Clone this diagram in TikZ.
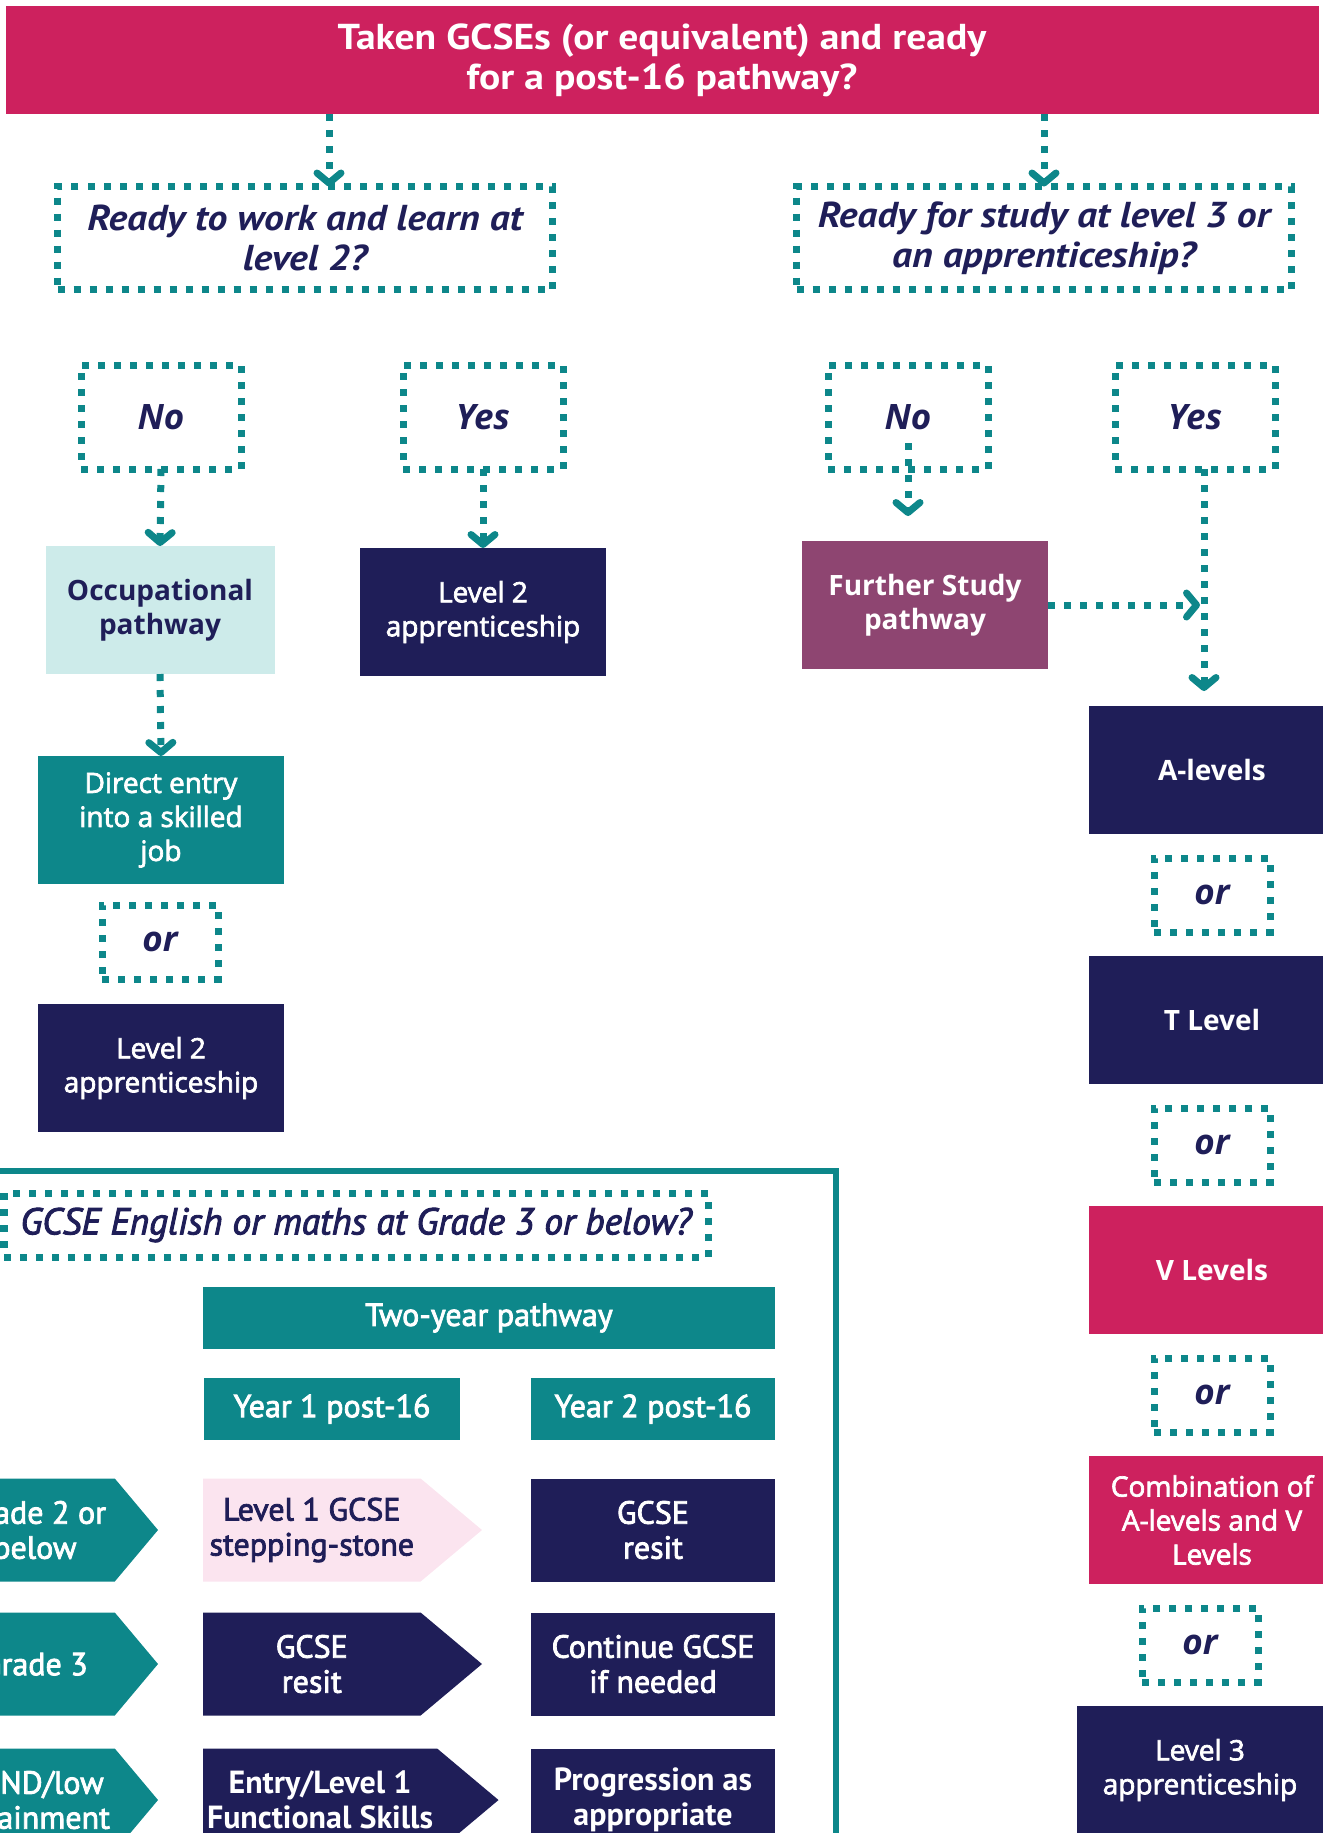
\documentclass[tikz,border=0pt]{standalone}
\usepackage{fontspec}
\setmainfont{PT Sans}
\newfontfamily\myr{PT Sans}[FakeStretch=1.1]
\newfontfamily\semi{PT Sans}[FakeBold=2.5]
\newfontfamily\wide{Open Sans}
\newfontfamily\widesemi{Open Sans}[FakeBold=2.5]
\usetikzlibrary{arrows.meta,positioning,shapes.symbols}
\definecolor{pathred}{RGB}{205,33,94}
\definecolor{pathnavy}{RGB}{31,30,88}
\definecolor{pathteal}{RGB}{13,135,138}
\definecolor{pathplum}{RGB}{142,69,113}
\definecolor{pathice}{RGB}{205,235,234}
\definecolor{pathpink}{RGB}{251,228,239}

\begin{document}
\begin{tikzpicture}[x=0.5pt, y=-0.5pt,
node distance=12pt,
    B/.style = {rectangle, outer sep=0pt, inner sep=2pt, align=center},% base of all boxes
    F/.style = {B, fill=#1, text=white},% filled boxes
    W/.style = {F=#1, font=\widesemi\fontsize{14}{17}\selectfont,
                minimum width=123pt, minimum height=64pt},% boxes of the upper columns
   Wb/.style = {W=#1, font=\wide\fontsize{14}{17}\selectfont\bfseries},
    G/.style = {F=#1, font=\semi\fontsize{16}{17.5}\selectfont,
                minimum width=122pt, minimum height=51.5pt},% boxes of the two-year grid
    Q/.style = {B, draw=pathteal, line width=3.5pt, dash pattern=on 3.5pt off 4.5pt,
                text=pathnavy},% dashed question boxes
    R/.style = {Q, font=\wide\fontsize{17.5}{18}\selectfont\bfseries\itshape,
                minimum width=80pt, minimum height=52pt},% yes / no
    O/.style = {Q, font=\wide\fontsize{17.5}{18}\selectfont\bfseries\itshape,
                minimum width=58pt, minimum height=37pt},% or
    A/.style = {draw=pathteal, line width=3.5pt, dash pattern=on 3.5pt off 4.5pt,
                -{Straight Barb[length=5pt,width=12pt,round]}},% dotted arrows
    S/.style = {signal, signal to=east, fill=#1, text=white, outer sep=0pt,
                inner sep=2pt, align=center, minimum height=51.5pt,
                font=\semi\fontsize{16}{17.5}\selectfont},% arrow shaped boxes
                        ]
\useasboundingbox (0,0) rectangle (1323,1833);
\clip (0,0) rectangle (1323,1833);
% top question
\node[F=pathred, minimum width=656.5pt, minimum height=54pt,
      font=\myr\fontsize{18}{20}\selectfont\bfseries] (top) at (662,60)
      {Taken GCSEs (or equivalent) and ready\\for a post-16 pathway?};
\node[Q, minimum width=247.5pt, minimum height=51.5pt,
      font=\myr\fontsize{18}{20}\selectfont\bfseries\itshape] (qa) at (305,238)
      {Ready to work and learn at\\level 2?};
\node[Q, minimum width=247.5pt, minimum height=51.5pt,
      font=\myr\fontsize{18}{20}\selectfont\bfseries\itshape] (qb) at (1044,238)
      {Ready for study at level 3 or\\an apprenticeship?};
\draw[A] ([xshift=12pt]qa.north |- top.south) -- ([xshift=12pt]qa.north);
\draw[A] (qb.north |- top.south) -- (qb.north);
% answers
\node[R] (n1) at (161,417) {No};
\node[R] (y1) at (483,417) {Yes};
\node[R] (n2) at (908,417) {No};
\node[R] (y2) at (1195,417) {Yes};
% level 2
\node[Wb=pathice, text=pathnavy, minimum width=114.5pt] (occ) at (160,610) {Occupational\\pathway};
\node[W=pathnavy] (lv2a) at (483,612) {Level 2\\apprenticeship};
\node[W=pathteal] (dir) at (161,820) {Direct entry\\into a skilled\\job};
\node[O] (or0) at (160,942) {or};
\node[W=pathnavy] (lv2b) at (161,1068) {Level 2\\apprenticeship};
\draw[A] (n1.south) -- (occ.north);
\draw[A] (y1.south) -- (lv2a.north);
\draw[A] (occ.south) -- (dir.north);
% level 3
\node[Wb=pathplum] (fsp) at (925,605) {Further Study\\pathway};
\node[Wb=pathnavy] (alv) at (1212,770) {A-levels};
\node[O, below=of alv] (or1) {or};
\node[Wb=pathnavy, below=of or1] (tlv) {T Level};
\node[O, below=of tlv] (or2) {or};
\node[Wb=pathred, below=of or2] (vlv) {V Levels};
\node[O, below=of vlv] (or3) {or};
\node[W=pathred, below=of or3] (mix) {Combination of\\A-levels and V\\Levels};
\node[O, below=of mix, xshift=-6pt] (or4) {or};
\node[W=pathnavy, below=of or4] (lv3) {Level 3\\apprenticeship};
\coordinate (ya) at ([xshift=4.5pt]y2.south);
\draw[A] ([yshift=13pt]n2.south) -- ([yshift=-23.5pt]n2.south);
\draw[A] (ya) -- ([yshift=7.5pt]ya |- alv.north);
\draw[A] (fsp.east) -- ([xshift=-2pt]fsp.east -| ya);
% English and maths
\draw[pathteal, line width=3pt] (-10,1171) -| (836,1850);
\node[Q, minimum width=352pt, minimum height=32pt,
      font=\semi\fontsize{18.7}{20}\selectfont\itshape] (qc) at (356,1225)
      {GCSE English or maths at Grade 3 or below?};
\node[G=pathteal, minimum width=286pt, minimum height=31pt] (two) at (489,1318) {Two-year pathway};
\node[G=pathteal, minimum width=128pt, minimum height=31pt] (yr1) at (332,1409) {Year 1 post-16};
\node[G=pathteal, minimum height=31pt] (yr2) at (653,1409) {Year 2 post-16};
\foreach \y/\t [count=\i] in {1530/{Grade 2 or\\below}, 1664/{Grade 3}, 1800/{SEND/low\\attainment}}
    \node[S=pathteal, anchor=east, minimum width=101.5pt, signal pointer angle=100]
         (g\i) at (158,\y) {\t};
\node[S=pathpink, text=pathnavy, anchor=west, minimum width=139.5pt,
      signal pointer angle=80] (st1) at (203,1530) {Level 1 GCSE\\stepping-stone};
\node[S=pathnavy, anchor=west, minimum width=139.5pt,
      signal pointer angle=80] (st2) at (203,1664) {GCSE\\resit};
\node[S=pathnavy, anchor=west, minimum width=139.5pt, signal pointer angle=80,
      font=\fontsize{16}{17.5}\selectfont\bfseries] (st3) at (203,1800) {Entry/Level 1\\Functional Skills};
\node[G=pathnavy] (rs1) at (653,1530) {GCSE\\resit};
\node[G=pathnavy] (rs2) at (653,1664) {Continue GCSE\\if needed};
\node[G=pathnavy, font=\fontsize{16}{17.5}\selectfont\bfseries] (rs3) at (653,1800) {Progression as\\appropriate};
\end{tikzpicture}
\end{document}
